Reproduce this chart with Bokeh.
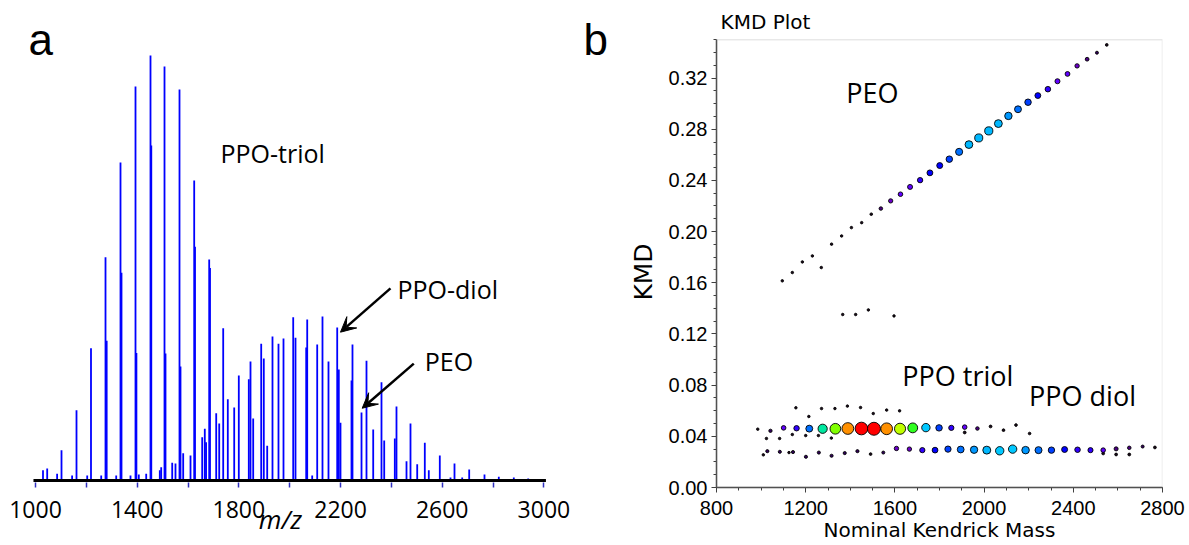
import math
from bokeh.plotting import figure
from bokeh.models import (Label, Arrow, VeeHead, FixedTicker, LinearColorMapper, ColumnDataSource,
                          BoxAnnotation, NumeralTickFormatter)
from bokeh.layouts import row
from bokeh.embed import file_html
from bokeh.resources import INLINE

# ---------------- panel a : mass spectrum ----------------
spec_mz = [1029.5, 1046, 1085, 1102.3, 1144, 1161.3, 1203.4, 1218.3, 1258.5, 1275.4, 1280,
           1317.5, 1334.4, 1338.3, 1373.7, 1393.4, 1397, 1406.4, 1435.5, 1452.4, 1455.5,
           1489, 1494.5, 1507.5, 1511.4, 1537.8, 1550.7, 1566.5, 1570.4, 1581, 1609.8,
           1624.3, 1627.5, 1655.8, 1666, 1671, 1683.3, 1686.5, 1710.9, 1722.7, 1738.4,
           1756.5, 1781.7, 1799.8, 1839.1, 1845.8, 1856.4, 1887.9, 1898.1, 1911.5,
           1932.3, 1955.9, 1975.6, 2013.8, 2022.8, 2064.9, 2068.9, 2088.5, 2108.2,
           2129, 2152.6, 2186.9, 2193.2, 2199.8, 2243.1, 2247, 2282.5, 2302.1, 2328.5,
           2361.1, 2371.8, 2413.5, 2420.1, 2459.5, 2475.2, 2501.6, 2531.5, 2547.2,
           2590.5, 2632.6, 2648.3, 2678.6, 2706.1, 2766.3, 2822.6, 2881.6, 2938.2]
spec_int = [2.4, 2.8, 1.6, 7.1, 1.2, 16.5, 1.2, 31.1, 1.2, 52.5, 32.9,
            1.2, 74.8, 48.9, 1.2, 92.7, 30, 1.4, 1.6, 100, 78.8,
            2.4, 3.1, 97.4, 29.9, 4.2, 4.0, 92.0, 26.8, 6.4, 5.9,
            70.6, 55, 10.2, 12.2, 9, 52, 50, 15.8, 13.4, 35.8,
            19.1, 17.2, 24.7, 23.8, 28, 14.6, 32.2, 28.7, 8.2,
            33.9, 32.2, 33.4, 38.4, 33.6, 31.3, 37.9, 1.2, 32,
            38.6, 28, 36, 26.1, 13.6, 23.5, 32, 16, 28.2, 12,
            23.1, 9.4, 9.9, 17.4, 4.5, 13.4, 3.8, 8.9, 2.4,
            5.9, 0.7, 4.0, 0.7, 2.6, 1.4, 0.9, 0.7, 0.5]
spec_ticks = [1000, 1400, 1800, 2200, 2600, 3000]
spec_minor = [1200, 1600, 2000, 2400, 2800]

# ---------------- panel b : KMD plot ----------------
peo_mass = [1095, 1140, 1185, 1230, 1270, 1316, 1361, 1405, 1451, 1494, 1537, 1581, 1625,
            1668, 1713, 1757, 1801, 1844, 1888, 1932, 1976, 2021, 2064, 2109, 2152, 2197,
            2241, 2286, 2329, 2374, 2417, 2462, 2506, 2550]
peo_kmd = [0.1615, 0.1680, 0.1763, 0.1810, 0.1719, 0.1902, 0.1966, 0.2031, 0.2070, 0.2136,
           0.2180, 0.2240, 0.2292, 0.2349, 0.2402, 0.2459, 0.2516, 0.2566, 0.2623, 0.2680,
           0.2732, 0.2787, 0.2844, 0.2904, 0.2956, 0.3011, 0.3063, 0.3113, 0.3175, 0.3232,
           0.3295, 0.3347, 0.3398, 0.3459]
peo_int = [0, 0, 0, 0, 0, 0, 0, 0, 0, 1, 10, 17, 20, 24, 27, 32, 33, 38, 44, 50, 53, 54,
           51, 47, 42, 38, 32, 29, 24, 22, 18, 12, 5, 2]

triol_mass = [985, 1042, 1101, 1159, 1216, 1276, 1333, 1389, 1450, 1506, 1563, 1623, 1680,
              1739, 1798, 1853, 1913, 1970, 2029, 2087, 2143, 2204]
triol_kmd = [0.0456, 0.0443, 0.0466, 0.0463, 0.0460, 0.0459, 0.0459, 0.0461, 0.0461, 0.0459,
             0.0459, 0.0459, 0.0466, 0.0468, 0.0466, 0.0466, 0.0472, 0.0461, 0.0477, 0.0448,
             0.0488, 0.0422]
triol_int = [0, 8, 20, 28, 42, 64, 78, 88, 97, 100, 88, 82, 70, 56, 38, 26, 20, 10, 3, 2, 2, 1]

diol_mass = [1491, 1548, 1607, 1665, 1723, 1780, 1838, 1895, 1955, 2012, 2070, 2128, 2186,
             2244, 2302, 2361, 2419, 2477, 2534, 2592, 2651, 2711, 2766]
diol_kmd = [0.0261, 0.0273, 0.0305, 0.0300, 0.0292, 0.0292, 0.0300, 0.0297, 0.0295, 0.0292,
            0.0287, 0.0300, 0.0292, 0.0292, 0.0292, 0.0297, 0.0295, 0.0292, 0.0292, 0.0302,
            0.0310, 0.0320, 0.0313]
diol_int = [2, 5, 18, 18, 26, 31, 36, 41, 46, 52, 56, 56, 48, 43, 37, 33, 29, 25, 20, 15, 10, 5, 3]

other_mass = [1156, 1214, 1271, 1331, 1387, 1446, 1503, 1563, 1621,
              1024, 1083, 1140, 1200, 1257, 1315, 1913,
              1010, 1028, 1084, 1125, 1143, 1201, 1259, 1316, 1375, 1432, 2534, 2592, 2651,
              1366, 1424, 1481, 1596]
other_kmd = [0.0623, 0.0555, 0.0617, 0.0617, 0.0636, 0.0625, 0.0578, 0.0605, 0.0599,
             0.0383, 0.0383, 0.0414, 0.0406, 0.0406, 0.0386, 0.0430,
             0.0255, 0.0284, 0.0279, 0.0273, 0.0277, 0.0240, 0.0273, 0.0248, 0.0269, 0.0284,
             0.0266, 0.0258, 0.0258,
             0.1352, 0.1352, 0.1388, 0.1341]
other_int = [0, 0, 0, 0, 0, 0, 0, 0, 0,
             0, 0, 0, 0, 0, 0, 3,
             0, 6, 6, 0, 6, 6, 6, 6, 6, 6, 3, 3, 3,
             0, 0, 0, 0]

kmd_xticks = [800, 1200, 1600, 2000, 2400, 2800]
kmd_yticks = [0.00, 0.04, 0.08, 0.12, 0.16, 0.20, 0.24, 0.28, 0.32]
kmd_ymax = 0.35

BOTTOM = 58

# ================= figure a =================
p1 = figure(width=572, height=545, x_range=(901.65, 3025.96), y_range=(-1.647, 112.94),
            y_axis_location=None, output_backend="svg", toolbar_location=None,
            min_border_left=10, min_border_right=22, min_border_top=0, min_border_bottom=BOTTOM)
p1.outline_line_color = None
p1.grid.visible = False

src1 = ColumnDataSource(dict(mz=spec_mz, y0=[0] * len(spec_mz), inten=spec_int))
p1.segment(x0="mz", y0="y0", x1="mz", y1="inten", source=src1, line_color="#0000ff", line_width=1.8)
p1.line(x=[spec_ticks[0] - 8, spec_ticks[-1] + 8], y=[0, 0], line_color="black", line_width=3)

ax = p1.xaxis[0]
ax.ticker = FixedTicker(ticks=spec_ticks, minor_ticks=spec_minor)
ax.axis_line_color = None
ax.major_tick_out = 0
ax.major_tick_in = 5
ax.minor_tick_out = 0
ax.minor_tick_in = 5
ax.major_tick_line_color = "#3030c0"
ax.minor_tick_line_color = "#3030c0"
ax.major_tick_line_width = 1.5
ax.minor_tick_line_width = 1.5
ax.major_label_text_font = "Open Sans"
ax.major_label_text_font_size = "23px"
ax.major_label_text_color = "black"
ax.major_label_standoff = 13
ax.axis_label = "m/z"
ax.axis_label_text_font = "Open Sans"
ax.axis_label_text_font_size = "26px"
ax.axis_label_text_font_style = "italic"
ax.axis_label_text_color = "black"
ax.axis_label_standoff = -20

p1.add_layout(Label(x=972.5, y=103.8, text="a", text_baseline="alphabetic",
                    text_font="Liberation Sans", text_font_size="44px", text_color="black"))
for txt, xx, yy in [("PPO-triol", 1727.8, 77.0), ("PPO-diol", 2424, 45.0), ("PEO", 2531.5, 28.1)]:
    p1.add_layout(Label(x=xx, y=yy, text=txt, text_baseline="alphabetic",
                        text_font="Open Sans", text_font_size="25px", text_color="black"))
for xs, ys, xe, ye in [(2396.5, 45.2, 2199.8, 34.9), (2488.2, 27.5, 2285.2, 17.0)]:
    p1.add_layout(Arrow(end=VeeHead(size=15, fill_color="black", line_color="black"),
                        x_start=xs, y_start=ys, x_end=xe, y_end=ye,
                        line_color="black", line_width=2.5))

# ================= strip between the panels: letter b and the KMD axis title =================
pb = figure(width=88, height=545, x_range=(572, 660), y_range=(0, 487),
            x_axis_location=None, y_axis_location=None, output_backend="svg", toolbar_location=None,
            min_border_left=0, min_border_right=0, min_border_top=0, min_border_bottom=BOTTOM)
pb.outline_line_color = None
pb.grid.visible = False
pb.add_layout(Label(x=583, y=448, text="b", text_baseline="alphabetic",
                    text_font="Liberation Sans", text_font_size="44px", text_color="black"))
pb.add_layout(Label(x=642.5, y=215.5, text="KMD", angle=math.pi / 2, text_align="center",
                    text_baseline="alphabetic", text_font="DejaVu Sans", text_font_size="25px",
                    text_color="black"))

# ================= figure b =================
p2 = figure(width=529, height=545, x_range=(800, 2800), y_range=(0, 0.3806),
            output_backend="svg", toolbar_location=None,
            min_border_left=56, min_border_right=27, min_border_top=0, min_border_bottom=BOTTOM)
p2.grid.visible = False
p2.outline_line_color = None
p2.add_layout(BoxAnnotation(left=kmd_xticks[0], right=kmd_xticks[-1], bottom=0, top=kmd_ymax,
                            fill_alpha=0, line_color="#b4b4b4", line_width=1.5))

palette = ["#1a0a1a", "#30005a", "#4a0080", "#6a00c8", "#6000ff", "#3000ff", "#0000ff",
           "#0040ff", "#0070ff", "#0098ff", "#00b8ff", "#00c8ff", "#00e8a0", "#00f060",
           "#30ff20", "#80ff00", "#c0ff00", "#ff9000", "#ff4000", "#ff0000"]
mapper = LinearColorMapper(palette=palette, low=0, high=100)

def add_series(mass, kmd, inten):
    src = ColumnDataSource(dict(x=mass, y=kmd, inten=inten,
                                size=[2.5 + 0.105 * v for v in inten]))
    p2.scatter(x="x", y="y", size="size", source=src,
               fill_color={"field": "inten", "transform": mapper},
               line_color="black", line_width=0.9)

add_series(other_mass, other_kmd, other_int)
add_series(peo_mass, peo_kmd, peo_int)
add_series(diol_mass, diol_kmd, diol_int)
add_series(triol_mass, triol_kmd, triol_int)

xa = p2.xaxis[0]
xa.ticker = FixedTicker(ticks=kmd_xticks, minor_ticks=list(range(800, 2801, 100)))
ya = p2.yaxis[0]
ya.ticker = FixedTicker(ticks=kmd_yticks, minor_ticks=[i / 100 for i in range(0, 36)])
ya.formatter = NumeralTickFormatter(format="0.00")
ya.bounds = (0, kmd_ymax)
for a in (xa, ya):
    a.axis_line_color = "#404040"
    a.axis_line_width = 1.5
    a.major_tick_line_color = "#404040"
    a.minor_tick_line_color = "#404040"
    a.major_tick_out = 5
    a.major_tick_in = 0
    a.minor_tick_out = 3
    a.minor_tick_in = 0
    a.major_label_text_font = "Liberation Sans"
    a.major_label_text_font_size = "20px"
    a.major_label_text_color = "black"
xa.major_label_standoff = 8
ya.major_label_standoff = 4
xa.axis_label = "Nominal Kendrick Mass"
xa.axis_label_text_font = "DejaVu Sans"
xa.axis_label_text_font_style = "normal"
xa.axis_label_text_color = "black"
xa.axis_label_text_font_size = "20px"
xa.axis_label_standoff = 0

p2.add_layout(Label(x=818, y=0.3640, text="KMD Plot", text_baseline="alphabetic",
                    text_font="DejaVu Sans", text_font_size="20px", text_color="black"))
for txt, xx, yy in [("PEO", 1382, 0.3086), ("PPO triol", 1633.5, 0.0873), ("PPO diol", 2201.7, 0.0716)]:
    p2.add_layout(Label(x=xx, y=yy, text=txt, text_baseline="alphabetic",
                        text_font="Open Sans", text_font_size="27px", text_color="black"))

layout = row(p1, pb, p2)
open("out.html", "w").write(file_html(layout, INLINE))
